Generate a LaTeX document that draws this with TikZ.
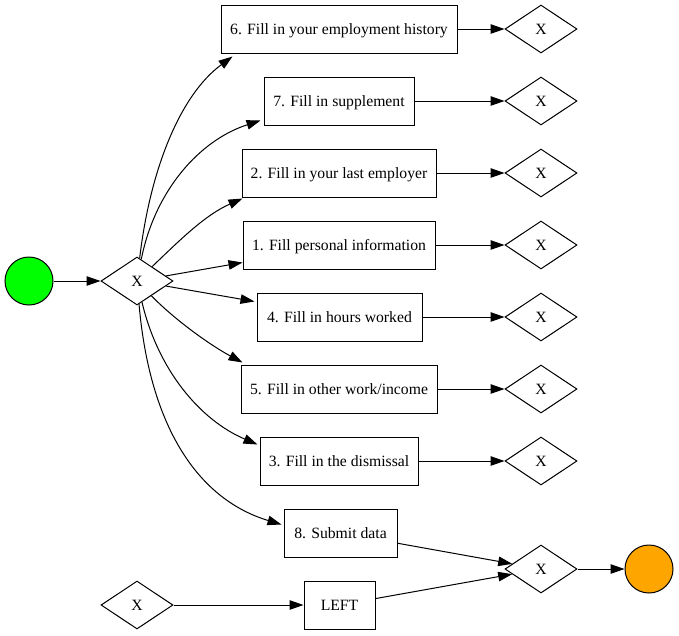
\documentclass[tikz,border=0pt]{standalone}
\usepackage{fontspec}
\setmainfont{Liberation Serif}
\usetikzlibrary{shapes.geometric,arrows.meta,calc}
\begin{document}
\begin{tikzpicture}[x=1pt,y=-1pt,
  every node/.style={font=\fontsize{15.7}{18}\selectfont,text height=11pt,text depth=0pt},
  task/.style={draw,rectangle,line width=1pt,minimum height=48pt,inner sep=0pt,fill=white},
  gate/.style={draw,diamond,line width=1pt,minimum width=72pt,minimum height=48pt,inner sep=0pt,aspect=1.5},
  ev/.style={draw,circle,line width=1pt,minimum size=48pt,inner sep=0pt},
  flow/.style={line width=1pt,-{Triangle[length=14pt,width=9.5pt]}}]
\useasboundingbox (0,0) rectangle (679,635);
\definecolor{startgreen}{HTML}{00FF00}
\definecolor{endorange}{HTML}{FFA500}
% events
\node[ev,fill=startgreen] (start) at (29,281) {};
\node[ev,fill=endorange] (end) at (649,569) {};
% gateways
\node[gate] (split) at (137,281) {X};
\node[gate] (dl) at (137,605) {X};
\node[gate] (dm) at (541,569) {X};
% tasks
\node[task,minimum width=236pt] (b6) at (339,29) {6. Fill in your employment history};
\node[task,minimum width=150pt] (b7) at (339,101) {7. Fill in supplement};
\node[task,minimum width=194pt] (b2) at (339,173) {2. Fill in your last employer};
\node[task,minimum width=192pt] (b1) at (339,245) {1. Fill personal information};
\node[task,minimum width=165pt] (b4) at (339.5,317) {4. Fill in hours worked};
\node[task,minimum width=196pt] (b5) at (339,389) {5. Fill in other work/income};
\node[task,minimum width=158pt] (b3) at (339,461) {3. Fill in the dismissal};
\node[task,minimum width=113pt] (b8) at (340.5,533) {8. Submit data};
\node[task,minimum width=71pt] (left) at (339.5,605) {LEFT};
% right gateways
\node[gate] (d6) at (541,29) {X};
\node[gate] (d7) at (541,101) {X};
\node[gate] (d2) at (541,173) {X};
\node[gate] (d1) at (541,245) {X};
\node[gate] (d4) at (541,317) {X};
\node[gate] (d5) at (541,389) {X};
\node[gate] (d3) at (541,461) {X};
% flows
\draw[flow] (start) -- (split);
\draw[flow] (split) .. controls (150,170) and (180,95) .. ($(b6.south west)+(12,3)$);
\draw[flow] (split) .. controls (155,190) and (200,140) .. ($(b7.south west)+(-3,-5)$);
\draw[flow] (split) .. controls (180,240) and (205,215) .. ($(b2.south west)+(1,1)$);
\draw[flow] (split) -- ($(b1.south west)+(0,-7)$);
\draw[flow] (split) -- ($(b4.north west)+(-2,9)$);
\draw[flow] (split) .. controls (175,320) and (210,345) .. ($(b5.north west)+(2,-2)$);
\draw[flow] (split) .. controls (158,370) and (200,420) .. ($(b3.north west)+(-2,8)$);
\draw[flow] (split) .. controls (150,430) and (200,500) .. ($(b8.north west)+(-2,16)$);
\draw[flow] (b6) -- (d6);
\draw[flow] (b7) -- (d7);
\draw[flow] (b2) -- (d2);
\draw[flow] (b1) -- (d1);
\draw[flow] (b4) -- (d4);
\draw[flow] (b5) -- (d5);
\draw[flow] (b3) -- (d3);
\draw[flow] (b8) -- (dm);
\draw[flow] (left) -- (dm);
\draw[flow] (dl) -- (left);
\draw[flow] (dm) -- (end);
\end{tikzpicture}
\end{document}
